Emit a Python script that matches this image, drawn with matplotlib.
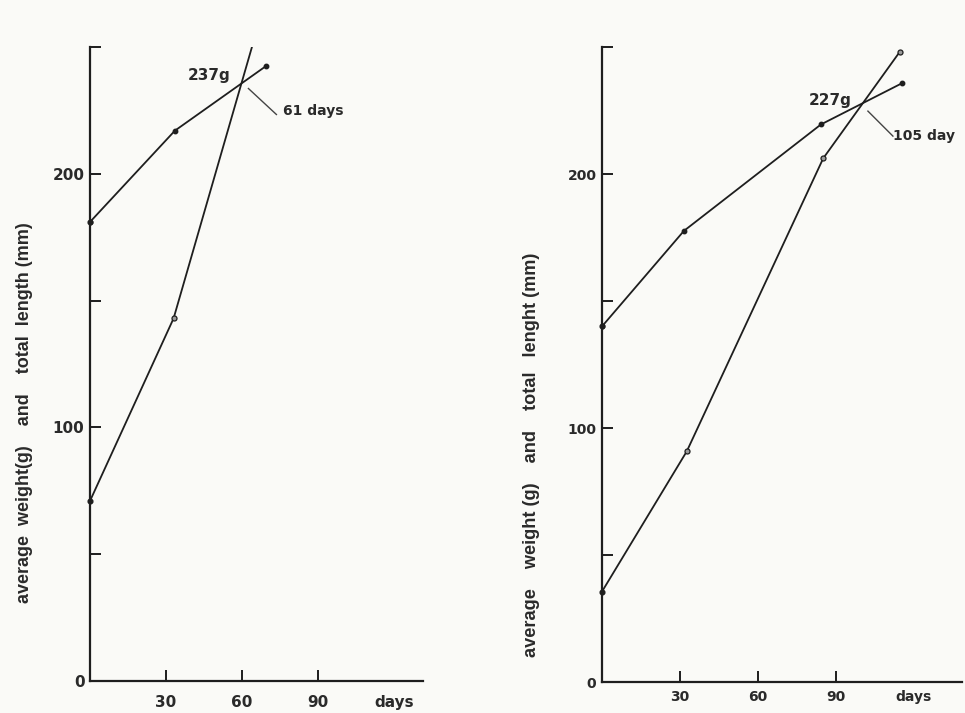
import numpy as np
import matplotlib
matplotlib.use("Agg")
import matplotlib.pyplot as plt
from matplotlib import font_manager

# ---- data ----
# left panel
left_len_days = [0, 33.5, 69.5]
left_len_vals = [181, 217, 242.5]
left_wt_days = [0, 33, 70]
left_wt_vals = [71, 143, 271]
left_note_value = "237g"
left_note_day = "61 days"

# right panel
right_len_days = [0, 31.5, 84.2, 115.5]
right_len_vals = [140, 177.6, 219.5, 235.8]
right_wt_days = [0, 32.6, 85.1, 114.6]
right_wt_vals = [35.6, 90.8, 206.2, 248.2]
right_note_value = "227g"
right_note_day = "105 day"

y_ticks = [0, 50, 100, 150, 200, 250]
y_ticklabels = ["0", "", "100", "", "200", ""]
x_ticks = [30, 60, 90, 120]
x_ticklabels = ["30", "60", "90", "days"]

left_ylabel = "average  weight(g)    and    total  length (mm)"
right_ylabel = "average    weight (g)    and    total   lenght (mm)"

INK = "#1e1e1e"
TXT = "#2a2a2a"
BG = "#fafaf7"


def pick_family(cands):
    for c in cands:
        try:
            font_manager.findfont(font_manager.FontProperties(family=c),
                                  fallback_to_default=False)
            return c
        except Exception:
            continue
    return "DejaVu Sans"


LABEL_FAMILY = pick_family(["Liberation Sans Narrow", "Liberation Sans", "DejaVu Sans"])

fig = plt.figure(figsize=(9.65, 7.13), dpi=100, facecolor=BG)
renderer = fig.canvas.get_renderer()


def crossing(d1, v1, d2, v2):
    grid = np.linspace(max(d1[1], d2[1]), min(d1[-1], d2[-1]), 4001)
    diff = np.interp(grid, d1, v1) - np.interp(grid, d2, v2)
    i = np.argmin(np.abs(diff))
    return grid[i], np.interp(grid[i], d1, v1)


def fit_length(txt, target_px, vertical):
    bb = txt.get_window_extent(renderer=renderer)
    cur = bb.height if vertical else bb.width
    txt.set_fontsize(txt.get_fontsize() * target_px / cur)


def panel(rect, xmax, len_d, len_v, wt_d, wt_v, note_v, note_d,
          v_off, d_off, lead0, lead1, ylabel, ylab_x, ylab_y0, ylab_y1,
          fs_tick, xpad):
    ax = fig.add_axes(rect)
    ax.set_facecolor("none")
    ax.set_xlim(0, xmax)
    ax.set_ylim(0, 250)
    for s in ("top", "right"):
        ax.spines[s].set_visible(False)
    for s in ("left", "bottom"):
        ax.spines[s].set_linewidth(1.6)
        ax.spines[s].set_color(INK)
    ax.set_yticks(y_ticks)
    ax.set_yticklabels(y_ticklabels)
    ax.set_xticks(x_ticks)
    ax.set_xticklabels(x_ticklabels)
    ax.tick_params(direction="in", length=8, width=1.4, color=INK,
                   labelsize=fs_tick, labelcolor=TXT)
    ax.tick_params(axis="y", pad=4)
    ax.tick_params(axis="x", pad=xpad)
    ax.xaxis.get_major_ticks()[3].tick1line.set_visible(False)
    for lab in ax.get_xticklabels() + ax.get_yticklabels():
        lab.set_fontweight("bold")

    ax.plot(len_d, len_v, color=INK, lw=1.3, marker="o", ms=3.2,
            mfc=INK, mec=INK, clip_on=True)
    ax.plot(wt_d, wt_v, color=INK, lw=1.3, clip_on=True)
    ax.plot(wt_d, wt_v, ls="none", marker="o", ms=3.6, mfc="#9a9a9a",
            mec=INK, mew=0.9, markevery=list(range(1, len(wt_d))),
            clip_on=True)
    ax.plot(wt_d[:1], wt_v[:1], ls="none", marker="o", ms=3.4,
            mfc=INK, mec=INK, clip_on=False)
    ax.plot(len_d[:1], len_v[:1], ls="none", marker="o", ms=3.4,
            mfc=INK, mec=INK, clip_on=False)

    cx, cy = crossing(len_d, len_v, wt_d, wt_v)
    ax.annotate(note_v, xy=(cx, cy), xytext=v_off, textcoords="offset points",
                ha="right", va="center", fontsize=11, fontweight="bold",
                color=TXT)
    ax.annotate(note_d, xy=(cx, cy), xytext=d_off, textcoords="offset points",
                ha="left", va="center", fontsize=10, fontweight="bold",
                color=TXT)
    # leader line
    p0 = ax.transData.transform((cx, cy))
    inv = ax.transData.inverted()
    a = inv.transform((p0[0] + lead0[0], p0[1] + lead0[1]))
    b = inv.transform((p0[0] + lead1[0], p0[1] + lead1[1]))
    ax.plot([a[0], b[0]], [a[1], b[1]], color="#444", lw=1.0)

    t = fig.text(ylab_x / W, 1 - 0.5 * (ylab_y0 + ylab_y1) / H, ylabel,
                 rotation=90, ha="center", va="center", fontsize=10,
                 fontweight="bold", color=TXT, family=LABEL_FAMILY)
    fit_length(t, ylab_y1 - ylab_y0, True)
    return ax


W, H = 965.0, 713.0
# left panel: y-axis x=90 px, x-axis y=681 px, top 47 px, 90 days at 318 px
lx0, lx1, ly0, ly1 = 90, 423, 681, 47
panel([lx0 / W, (H - ly0) / H, (lx1 - lx0) / W, (ly0 - ly1) / H],
      (lx1 - lx0) / ((318 - 90) / 90.0),
      left_len_days, left_len_vals, left_wt_days, left_wt_vals,
      left_note_value, left_note_day,
      (-8, 6), (30, -20), (7, -5), (35, -31),
      left_ylabel, 25, 221, 604, 11, 10)

# right panel: y-axis x=602 px, x-axis y=682 px, top 47 px, 90 days at 836 px
rx0, rx1, ry0, ry1 = 602, 962, 682, 47
panel([rx0 / W, (H - ry0) / H, (rx1 - rx0) / W, (ry0 - ry1) / H],
      (rx1 - rx0) / ((836 - 602) / 90.0),
      right_len_days, right_len_vals, right_wt_days, right_wt_vals,
      right_note_value, right_note_day,
      (-8, 2), (22, -24), (5, -8), (30, -33),
      right_ylabel, 531, 252, 657, 10, 6)

fig.savefig("out.png", dpi=100, facecolor=BG)
